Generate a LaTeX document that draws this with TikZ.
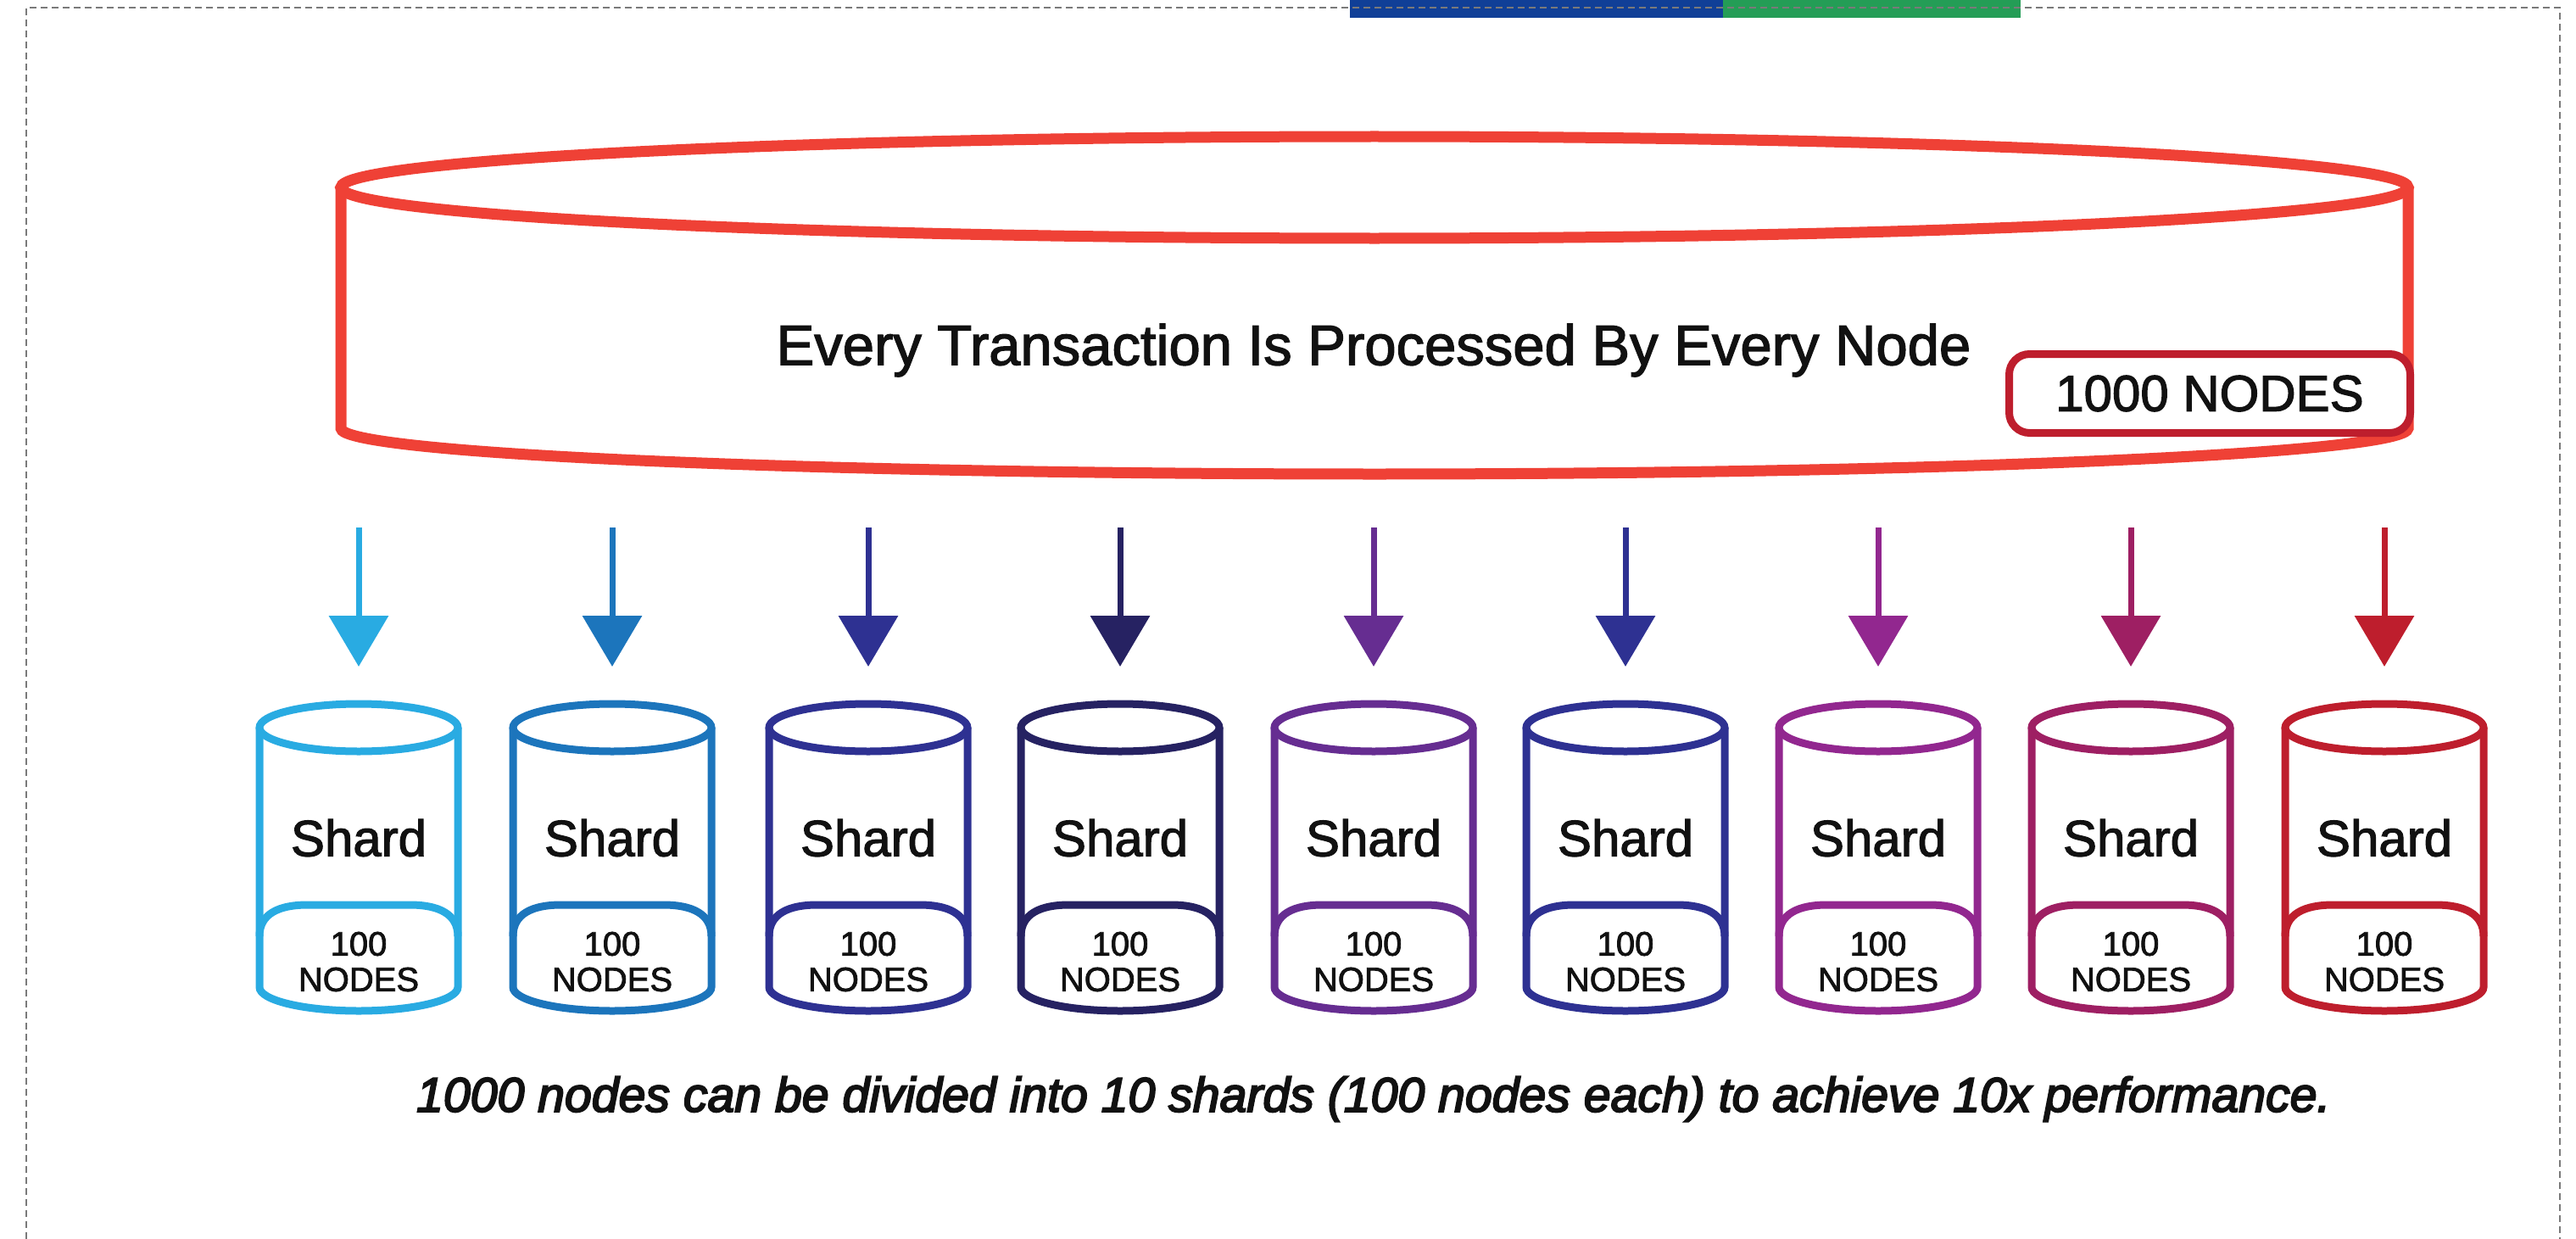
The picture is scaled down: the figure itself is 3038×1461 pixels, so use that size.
\documentclass[tikz,border=0pt]{standalone}
\usepackage{fontspec}
\setmainfont{Liberation Sans}
\newfontfamily\medfont[FakeBold=2]{Liberation Sans}
\newfontfamily\heavyfont[FakeBold=3.5]{Liberation Sans}
\usetikzlibrary{arrows.meta}

\definecolor{ledger}{HTML}{EF4136}
\definecolor{tagred}{HTML}{BE1E2D}
\definecolor{barblue}{HTML}{103F97}
\definecolor{bargreen}{HTML}{249D56}
\definecolor{framegray}{HTML}{7A7A7A}
\definecolor{textblack}{HTML}{111111}
\definecolor{sA}{HTML}{29ABE2}
\definecolor{sB}{HTML}{1C75BC}
\definecolor{sC}{HTML}{2E3192}
\definecolor{sD}{HTML}{262262}
\definecolor{sE}{HTML}{662D91}
\definecolor{sF}{HTML}{2E3192}
\definecolor{sG}{HTML}{92278F}
\definecolor{sH}{HTML}{9E1F63}
\definecolor{sI}{HTML}{BE1E2D}

\begin{document}
\begin{tikzpicture}[x=0.5pt, y=-0.5pt,
  cyl/.style={draw=ledger, line width=6.5pt},
  shardline/.style={line width=4.5pt},
  feed/.style={line width=3.5pt, -{Triangle[width=34.5pt, length=30pt]}},
  lbl/.style={inner sep=0pt, text=textblack},
  border/.style={draw=framegray, line width=1pt, dash pattern=on 4pt off 2.5pt}
]
\useasboundingbox (0,0) rectangle (3038,1461);

% header bars
\fill[barblue] (1592,0) rectangle (2032,21);
\fill[bargreen] (2032,0) rectangle (2383,21);

% dashed frame (open at the bottom)
\draw[border] (30.5,1461) -- (30.5,9.5) -- (3019,9.5) -- (3019,1461);

% the single big ledger
\draw[cyl] (1621,221) ellipse [x radius=1219, y radius=60];
\draw[cyl] (402,221) -- (402,505)
  arc [start angle=180, end angle=0, x radius=1219, y radius=54] -- (2840,221);

\node[lbl, font=\medfont\fontsize{33.5}{40}\selectfont] (title) at (1620,413)
  {Every Transaction Is Processed By Every Node};

\node[draw=tagred, line width=4.5pt, fill=white, rounded corners=12pt,
      minimum width=236.5pt, minimum height=46.5pt, inner sep=0pt,
      text=textblack, font=\medfont\fontsize{30}{36}\selectfont] (total) at (2606,464)
  {1000 NODES};

% shards with their feeding arrows
\foreach \i/\c/\col in {1/423/sA, 2/722/sB, 3/1024/sC, 4/1321/sD, 5/1620/sE,
                        6/1917/sF, 7/2215/sG, 8/2513/sH, 9/2812/sI} {
  \coordinate (from\i) at (\c,622);
  \coordinate (to\i) at (\c,786);
  \draw[feed, \col] (from\i) -- (to\i);

  \begin{scope}[shardline, draw=\col]
    \draw (\c,858) ellipse [x radius=117, y radius=28];
    \draw (\c-117,858) -- (\c-117,1164)
      arc [start angle=180, end angle=0, x radius=117, y radius=28] -- (\c+117,858);
    \draw (\c-117,1104) .. controls (\c-117,1078) and (\c-95,1067) .. (\c-60,1067)
      -- (\c+60,1067) .. controls (\c+95,1067) and (\c+117,1078) .. (\c+117,1104);
  \end{scope}

  \node[lbl, font=\medfont\fontsize{30}{36}\selectfont] (shard\i) at (\c,988) {Shard};
  \node[lbl, align=center, font=\medfont\fontsize{20}{21}\selectfont] (count\i) at (\c,1134)
    {100\\NODES};
}

\node[lbl, font=\heavyfont\itshape\fontsize{28.6}{34}\selectfont] (note) at (1620,1296)
  {1000 nodes can be divided into 10 shards (100 nodes each) to achieve 10x performance.};
\end{tikzpicture}
\end{document}
